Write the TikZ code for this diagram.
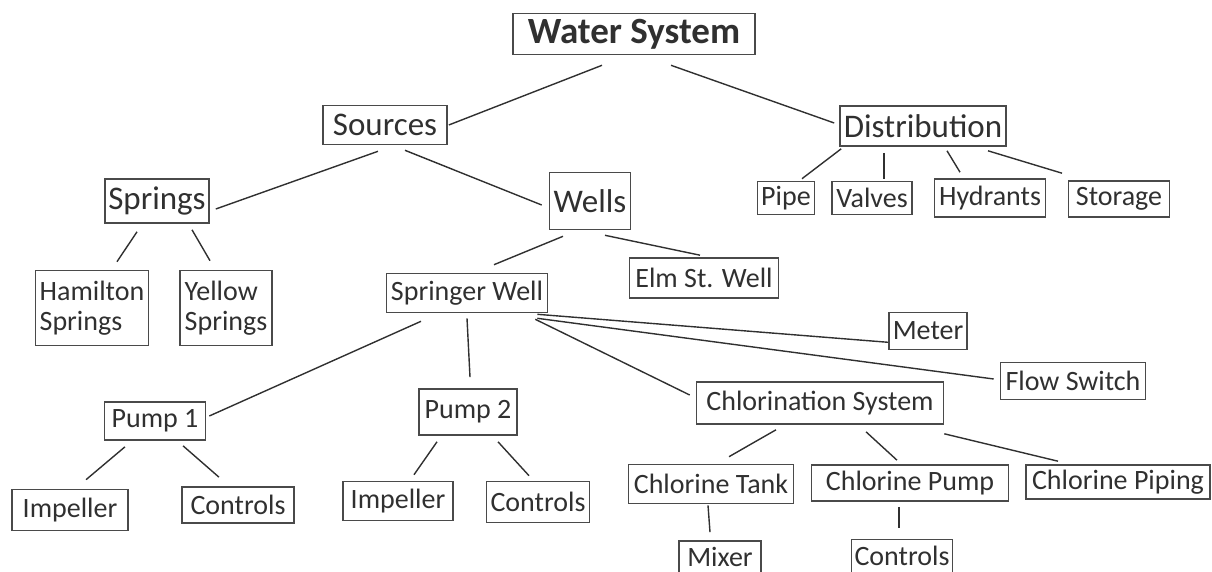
\documentclass[tikz,border=0pt]{standalone}
\usepackage{fontspec}
\setmainfont{Carlito}
\usetikzlibrary{positioning}

\definecolor{boxgray}{HTML}{4A4A4A}
\definecolor{inkgray}{HTML}{303030}

\begin{document}
\begin{tikzpicture}[x=1pt, y=-1pt,
    part/.style={draw=boxgray, line width=1.6pt, text=inkgray, inner sep=2pt,
      font=\fontsize{28}{30}\selectfont},
    group/.style={part, font=\fontsize{33}{35}\selectfont},
    link/.style={draw=inkgray, line width=1.4pt}]
  \useasboundingbox (0,0) rectangle (1212,572);
  % top levels
  \node(ws)[part, font=\fontsize{37}{40}\selectfont\bfseries, minimum width=242pt, minimum height=41pt] at (634,34) {Water System};
  \node(src)[group, minimum width=124pt, minimum height=39pt] at (385,125) {Sources};
  \node(dist)[group, minimum width=166pt, minimum height=40pt] at (923,126) {Distribution};
  \node(spr)[group, minimum width=104pt, minimum height=44pt] at (157,201) {Springs};
  \node(wells)[group, minimum width=81pt, minimum height=57pt] at (590,201) {Wells};
  % distribution parts
  \node(pipe)[part, minimum width=57pt, minimum height=33pt] at (786,198) {Pipe};
  \node(valves)[part, minimum width=80pt, minimum height=33pt] at (872,198) {Valves};
  \node(hyd)[part, minimum width=111pt, minimum height=38pt] at (990,198) {Hydrants};
  \node(stor)[part, minimum width=101pt, minimum height=36pt] at (1119,199) {Storage};
  % springs and wells
  \node(ham)[part, align=left, minimum width=113pt, minimum height=75pt] at (92,308) {Hamilton\\Springs};
  \node(yel)[part, align=left, minimum width=92pt, minimum height=75pt] at (226,308) {Yellow\\Springs};
  \node(sw)[part, minimum width=161pt, minimum height=39pt] at (467,293) {Springer Well};
  \node(elm)[part, minimum width=149pt, minimum height=40pt] at (704,278) {Elm St. Well};
  \node(meter)[part, minimum width=78pt, minimum height=37pt] at (928,331) {Meter};
  \node(flow)[part, minimum width=145pt, minimum height=37pt] at (1073,381) {Flow Switch};
  % pumps
  \node(p1)[part, minimum width=101pt, minimum height=38pt] at (155,421) {Pump 1};
  \node(p2)[part, minimum width=98pt, minimum height=46pt] at (468,412) {Pump 2};
  \node(imp1)[part, minimum width=116pt, minimum height=41pt] at (70,510) {Impeller};
  \node(ctl1)[part, minimum width=112pt, minimum height=36pt] at (238,505) {Controls};
  \node(imp2)[part, minimum width=110pt, minimum height=39pt] at (398,501) {Impeller};
  \node(ctl2)[part, minimum width=103pt, minimum height=41pt] at (538,502) {Controls};
  % chlorination
  \node(chl)[part, minimum width=247pt, minimum height=42pt] at (820,403) {Chlorination System};
  \node(tank)[part, minimum width=165pt, minimum height=39pt] at (711,484) {Chlorine Tank};
  \node(cpump)[part, minimum width=197pt, minimum height=36pt] at (910,483) {Chlorine Pump};
  \node(pipg)[part, minimum width=184pt, minimum height=34pt] at (1118,482) {Chlorine Piping};
  \node(mix)[part, minimum width=82pt, minimum height=32pt] at (720,557) {Mixer};
  \node(ctl3)[part, minimum width=101pt, minimum height=33pt] at (902,556) {Controls};

  \draw[link] ([xshift=-32pt,yshift=-10pt]ws.south) -- ([xshift=1pt]src.east);
  \draw[link] ([xshift=37pt,yshift=-10pt]ws.south) -- ([xshift=-5pt,yshift=3pt]dist.west);
  \draw[link] ([xshift=-7pt,yshift=-6pt]src.south) -- ([xshift=6pt,yshift=-8pt]spr.east);
  \draw[link] ([xshift=20pt,yshift=-5pt]src.south) -- ([xshift=-7pt,yshift=-4pt]wells.west);
  \draw[link] ([xshift=2pt,yshift=-2pt]dist.south west) -- ([xshift=16pt,yshift=2pt]pipe.north);
  \draw[link] ([xshift=-39pt,yshift=-6pt]dist.south) -- ([xshift=12pt,yshift=2pt]valves.north);
  \draw[link] ([xshift=24pt,yshift=-4pt]dist.south) -- ([xshift=-30pt,yshift=6pt]hyd.north);
  \draw[link] ([xshift=65pt,yshift=-4pt]dist.south) -- ([xshift=-57pt,yshift=7pt]stor.north);
  \draw[link] ([xshift=-20pt,yshift=-8pt]spr.south) -- ([xshift=25pt,yshift=8pt]ham.north);
  \draw[link] ([xshift=35pt,yshift=-6pt]spr.south) -- ([xshift=-16pt,yshift=9pt]yel.north);
  \draw[link] ([xshift=-27pt,yshift=-6pt]wells.south) -- ([xshift=27pt,yshift=8pt]sw.north);
  \draw[link] ([xshift=15pt,yshift=-5pt]wells.south) -- ([xshift=-4pt,yshift=2pt]elm.north);
  \draw[link] ([xshift=-46pt,yshift=-8pt]sw.south) -- ([xshift=3pt,yshift=5pt]p1.east);
  \draw[link] ([yshift=-5pt]sw.south) -- ([xshift=2pt,yshift=11pt]p2.north);
  \draw[link] ([xshift=-13pt,yshift=-6pt]sw.south east) -- ([xshift=-6pt,yshift=8pt]chl.west);
  \draw[link] ([xshift=-11pt,yshift=-1pt]sw.south east) -- ([yshift=8pt]meter.south west);
  \draw[link] ([xshift=-11pt,yshift=-5pt]sw.south east) -- ([xshift=-6pt,yshift=2pt]flow.west);
  \draw[link] ([xshift=-30pt,yshift=-6pt]p1.south) -- ([xshift=16pt,yshift=9pt]imp1.north);
  \draw[link] ([xshift=28pt,yshift=-5pt]p1.south) -- ([xshift=-19pt,yshift=9pt]ctl1.north);
  \draw[link] ([xshift=-31pt,yshift=-6pt]p2.south) -- ([xshift=16pt,yshift=6pt]imp2.north);
  \draw[link] ([xshift=30pt,yshift=-6pt]p2.south) -- ([xshift=-9pt,yshift=5pt]ctl2.north);
  \draw[link] ([xshift=-44pt,yshift=-5pt]chl.south) -- ([xshift=18pt,yshift=7pt]tank.north);
  \draw[link] ([xshift=46pt,yshift=-7pt]chl.south) -- ([xshift=-13pt,yshift=4pt]cpump.north);
  \draw[link] ([yshift=-9pt]chl.south east) -- ([xshift=-60pt,yshift=3pt]pipg.north);
  \draw[link] ([xshift=-3pt,yshift=-1pt]tank.south) -- ([xshift=-10pt,yshift=8pt]mix.north);
  \draw[link] ([xshift=-11pt,yshift=-5pt]cpump.south) -- ([xshift=-3pt,yshift=11pt]ctl3.north);
\end{tikzpicture}
\end{document}
